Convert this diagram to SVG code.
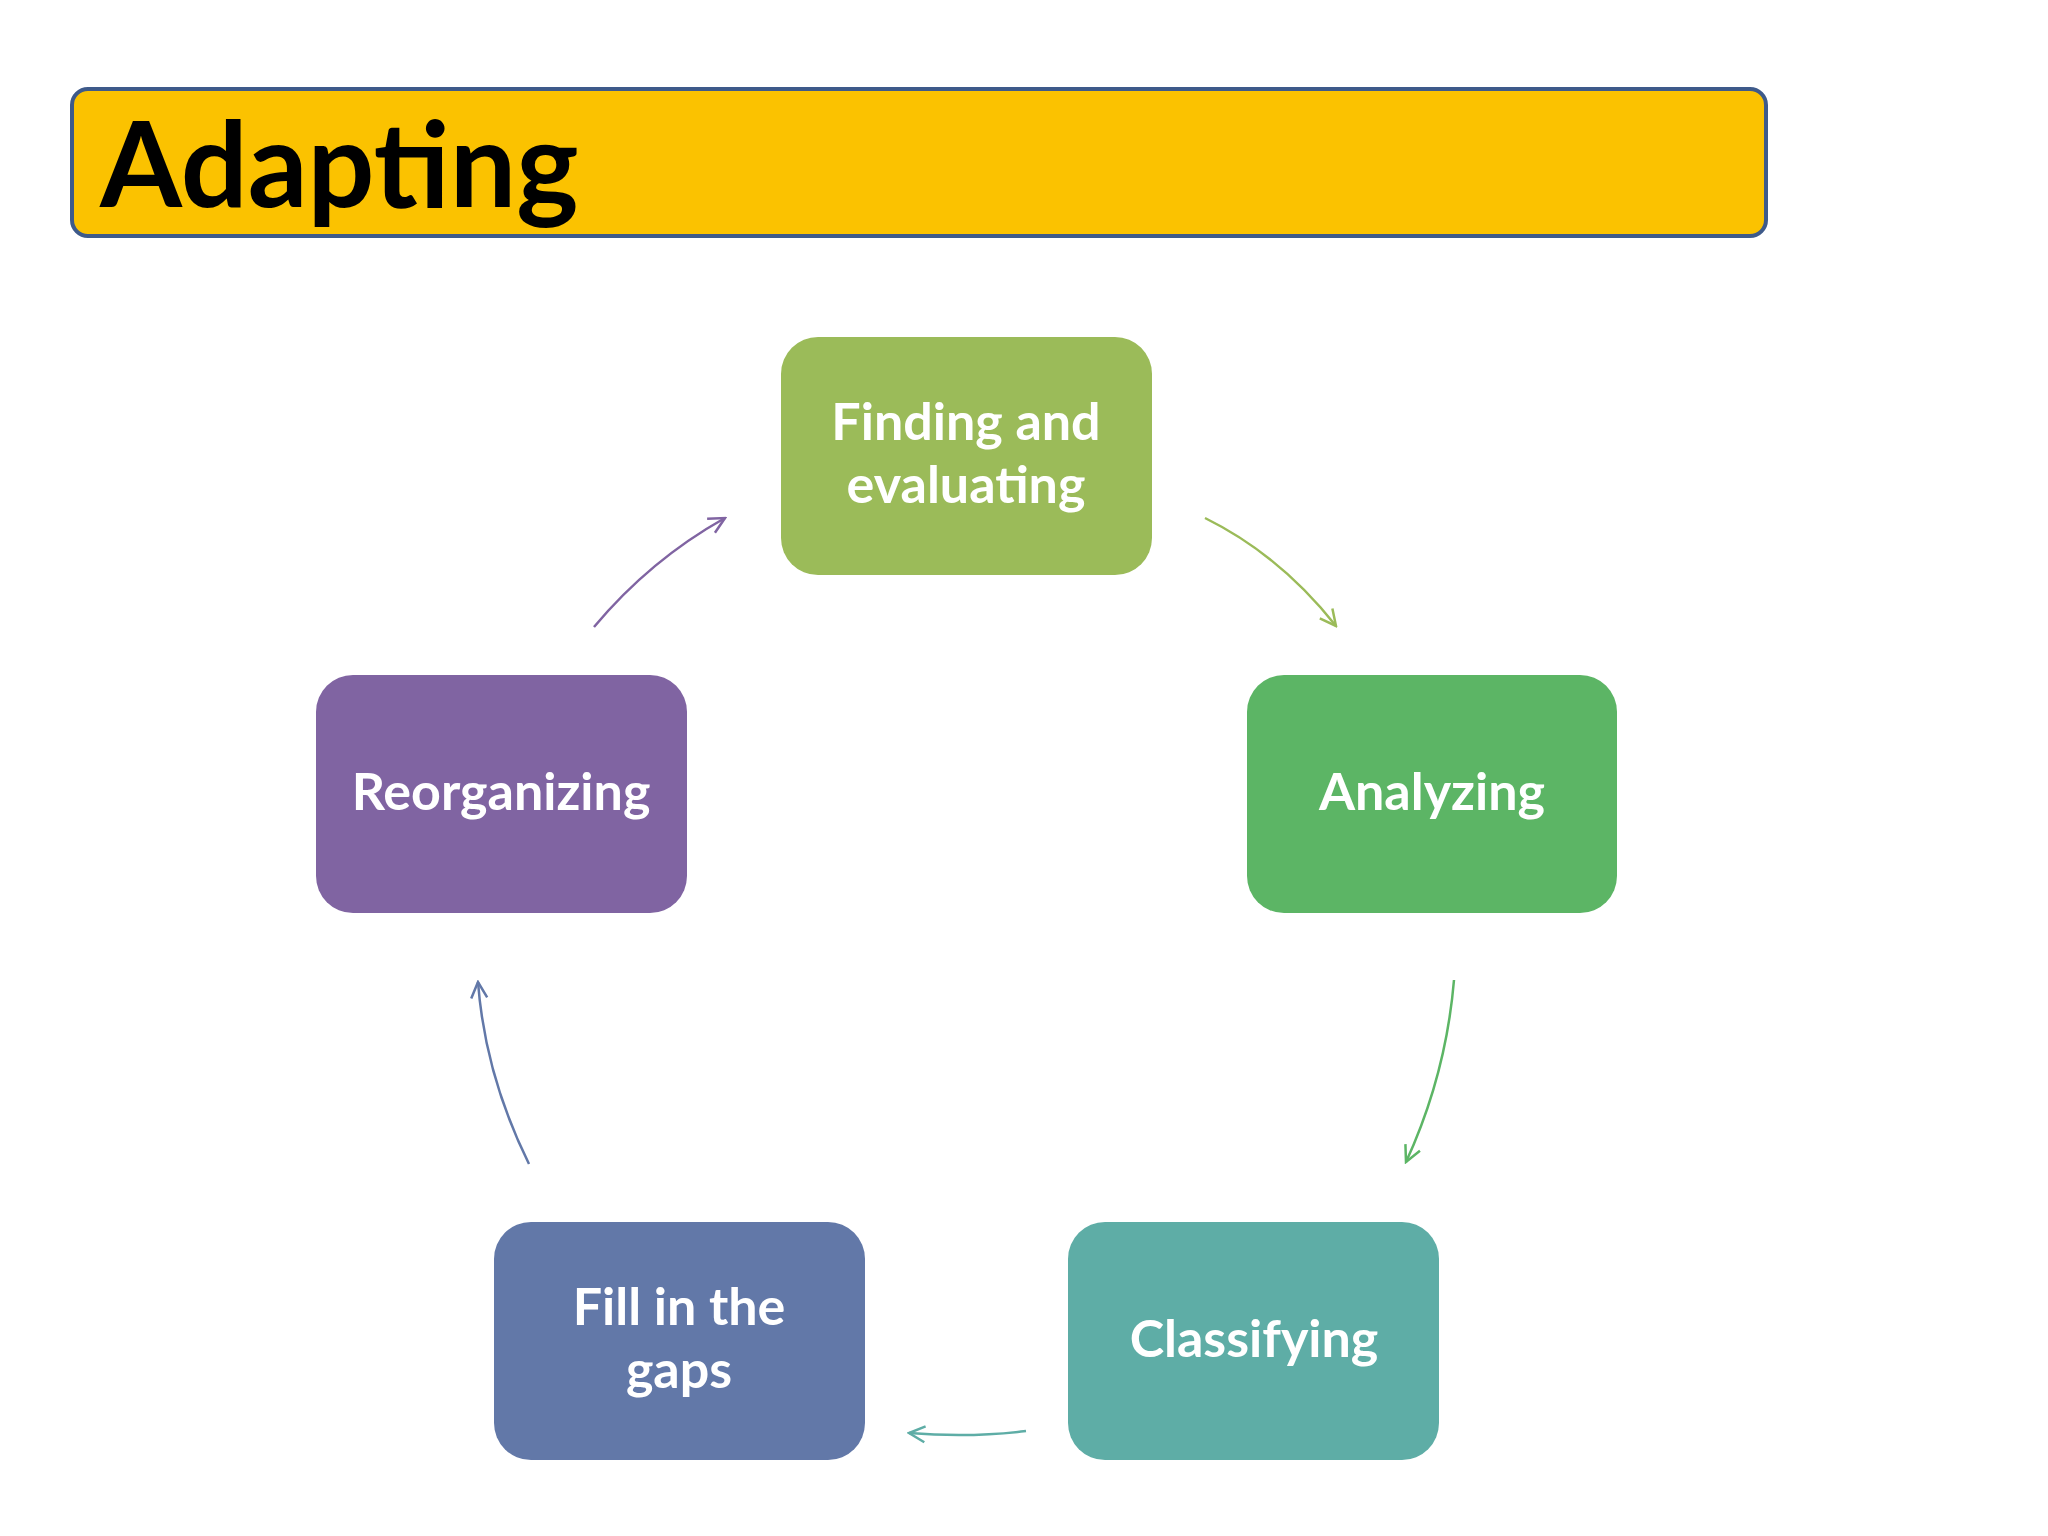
<svg xmlns="http://www.w3.org/2000/svg" width="2048" height="1536" viewBox="0 0 2048 1536">
<style>
.t{font-family:Lato,"Open Sans","Liberation Sans",sans-serif;font-weight:bold;font-size:52px;fill:#fff;text-anchor:middle}
.c{fill:none;stroke-width:2.5}
</style>
<defs>
<marker id="m1" viewBox="0 0 20 20" refX="18" refY="10" markerWidth="20" markerHeight="20" markerUnits="userSpaceOnUse" orient="auto"><path d="M2,2 L18,10 L2,18" fill="none" stroke="#9BBB59" stroke-width="2.5"/></marker>
<marker id="m2" viewBox="0 0 20 20" refX="18" refY="10" markerWidth="20" markerHeight="20" markerUnits="userSpaceOnUse" orient="auto"><path d="M2,2 L18,10 L2,18" fill="none" stroke="#5CB565" stroke-width="2.5"/></marker>
<marker id="m3" viewBox="0 0 20 20" refX="18" refY="10" markerWidth="20" markerHeight="20" markerUnits="userSpaceOnUse" orient="auto"><path d="M2,2 L18,10 L2,18" fill="none" stroke="#5EADA6" stroke-width="2.5"/></marker>
<marker id="m4" viewBox="0 0 20 20" refX="18" refY="10" markerWidth="20" markerHeight="20" markerUnits="userSpaceOnUse" orient="auto"><path d="M2,2 L18,10 L2,18" fill="none" stroke="#6278A8" stroke-width="2.5"/></marker>
<marker id="m5" viewBox="0 0 20 20" refX="18" refY="10" markerWidth="20" markerHeight="20" markerUnits="userSpaceOnUse" orient="auto"><path d="M2,2 L18,10 L2,18" fill="none" stroke="#8064A2" stroke-width="2.5"/></marker>
</defs>
<rect width="2048" height="1536" fill="#fff"/>
<g id="title">
<rect x="72" y="89" width="1694" height="147" rx="16" fill="#FBC200" stroke="#3E5A8A" stroke-width="4"/>
<text x="100" y="207" font-family="Lato,'Open Sans','Liberation Sans',sans-serif" font-weight="bold" font-size="118" fill="#000">Adapting</text>
</g>
<g id="connectors">
<path class="c" stroke="#9BBB59" marker-end="url(#m1)" d="M1205,518 Q1280,555 1336,626"/>
<path class="c" stroke="#5CB565" marker-end="url(#m2)" d="M1454,980 Q1446,1075 1406,1162"/>
<path class="c" stroke="#5EADA6" marker-end="url(#m3)" d="M1026,1431 Q970,1438 909,1433"/>
<path class="c" stroke="#6278A8" marker-end="url(#m4)" d="M529,1164 Q485,1075 478,982"/>
<path class="c" stroke="#8064A2" marker-end="url(#m5)" d="M594,627 Q650,560 725,518"/>
</g>
<g id="finding"><rect x="781" y="337" width="371" height="238" rx="37" fill="#9BBB59"/><text class="t" x="966" y="440">Finding and</text><text class="t" x="966" y="503">evaluating</text></g>
<g id="analyzing"><rect x="1247" y="675" width="370" height="238" rx="37" fill="#5CB565"/><text class="t" x="1432" y="810">Analyzing</text></g>
<g id="classifying"><rect x="1068" y="1222" width="371" height="238" rx="37" fill="#5EADA6"/><text class="t" x="1254" y="1357">Classifying</text></g>
<g id="fill"><rect x="494" y="1222" width="371" height="238" rx="37" fill="#6278A8"/><text class="t" x="679" y="1325">Fill in the</text><text class="t" x="679" y="1388">gaps</text></g>
<g id="reorganizing"><rect x="316" y="675" width="371" height="238" rx="37" fill="#8064A2"/><text class="t" x="501" y="810">Reorganizing</text></g>
</svg>
